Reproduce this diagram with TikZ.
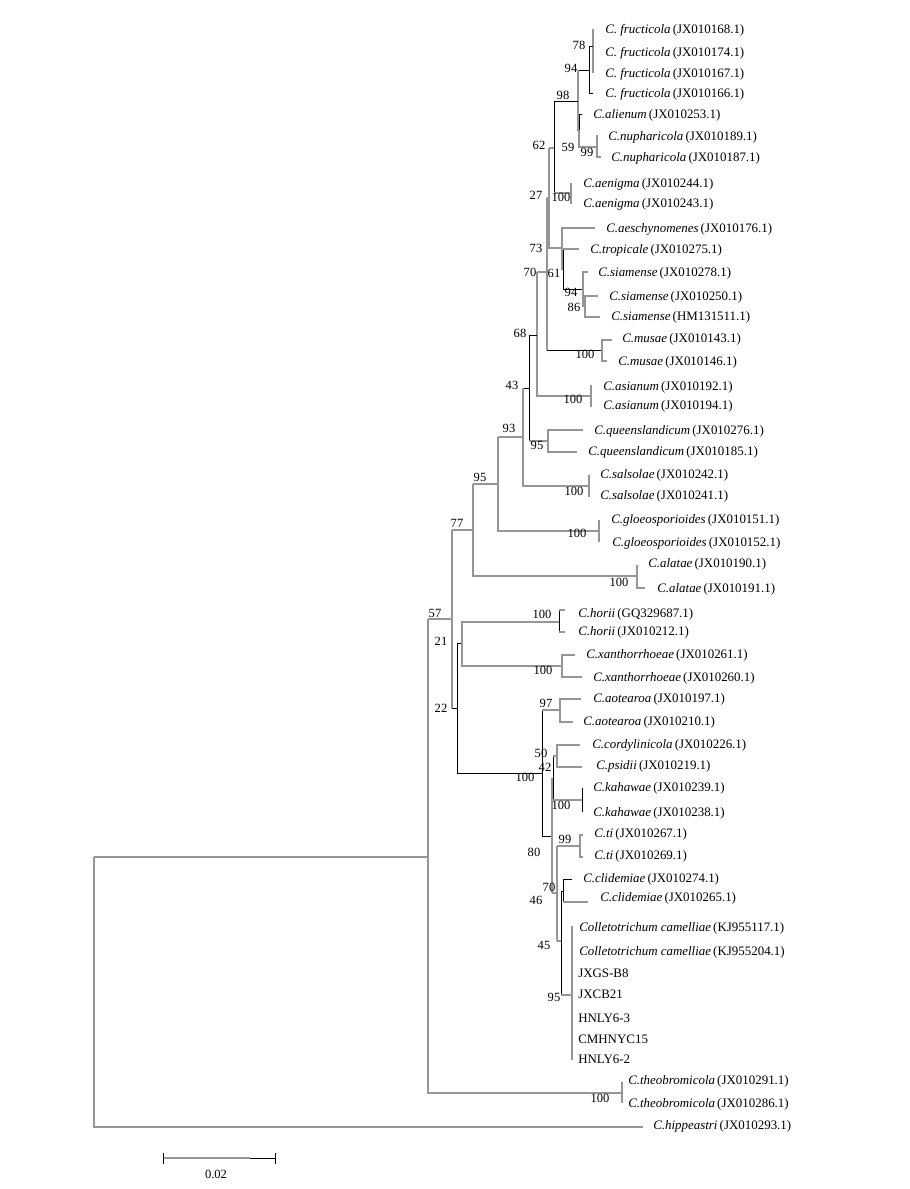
\documentclass[tikz,border=0pt]{standalone}
\usepackage{fontspec}
\setmainfont{Liberation Serif}
\definecolor{brg}{RGB}{150,150,150}
\newcommand\lf[4]{\node[leaf] (#1) at (#2,#3+4.3) {#4};}
\newcommand\bsv[4]{\node[bsl] (#1) at (#2,#3+4) {#4};}
\newcommand\spn[2]{\textit{#1}\,(#2)}
\begin{document}
\begin{tikzpicture}[x=0.75pt,y=-0.75pt,
  g/.style={draw=brg,line width=0.85pt},
  k/.style={draw=black,line width=0.75pt},
  leaf/.style={anchor=base west,inner sep=0pt,font=\fontsize{9.7}{11}\selectfont},
  bsl/.style={anchor=base,inner sep=0pt,font=\fontsize{9.4}{11}\selectfont}]
\useasboundingbox (0,0) rectangle (910,1189);
% ---------- branches ----------
\draw[g] (593,29)--(593,73);
\draw[k] (589,46)--(593,46);
\draw[k] (589,46)--(589,93)--(593,93);
\draw[k] (578,70)--(589,70);
\draw[g] (578,70)--(578,131);
\draw[k] (582,114)--(579,114)--(579,131);
\draw[g] (578,131)--(579,131)--(579,147)--(597,147);
\draw[g] (598,136)--(597,136)--(597,157)--(601,157);
\draw[k] (554,101)--(578,101);
\draw[k] (554,101)--(554,193);
\draw[g] (554,193)--(571,193);
\draw[g] (571,183)--(571,204);
\draw[g] (549,148)--(554,148);
\draw[g] (549,148)--(549,248)--(562,248);
\draw[g] (547,198)--(549,198);
\draw[g] (595,228)--(562,228)--(562,269)--(563,269);
\draw[k] (563,249)--(563,289);
\draw[g] (563,249)--(579,249);
\draw[k] (563,289)--(583,289);
\draw[g] (588,272)--(583,272)--(583,306)--(585,306);
\draw[g] (598,296)--(585,296)--(585,317)--(600,317);
\draw[g] (547,198)--(547,350);
\draw[k] (547,350)--(602,350);
\draw[g] (612,340)--(602,340)--(602,361)--(607,361);
\draw[g] (537,272)--(547,272);
\draw[g] (537,272)--(537,396)--(591,396);
\draw[g] (591,385)--(591,407);
\draw[k] (529,335)--(537,335);
\draw[k] (529,335)--(529,441);
\draw[g] (529,441)--(548,441);
\draw[g] (583,430)--(548,430)--(548,452)--(577,452);
\draw[k] (523,388)--(529,388);
\draw[g] (523,388)--(523,486)--(589,486);
\draw[g] (589,475)--(589,497);
\draw[g] (498,437)--(523,437);
\draw[g] (498,437)--(498,531)--(599,531);
\draw[g] (599,520)--(599,542);
\draw[g] (473,484)--(498,484);
\draw[g] (473,484)--(473,576)--(637,576);
\draw[g] (637,565)--(637,588)--(645,588);
\draw[g] (452,530)--(473,530);
\draw[g] (452,530)--(452,708);
\draw[g] (428,619)--(452,619);
\draw[k] (452,708)--(457,708);
\draw[k] (462,643)--(457,643)--(457,773);
\draw[g] (559,622)--(462,622)--(462,666)--(562,666);
\draw[k] (559,610)--(559,632);
\draw[g] (559,610)--(565,610);
\draw[g] (559,632)--(565,632);
\draw[g] (575,655)--(562,655)--(562,677)--(582,677);
\draw[k] (457,773)--(542,773);
\draw[k] (542,710)--(542,836)--(552,836);
\draw[g] (542,710)--(560,710);
\draw[g] (581,699)--(560,699)--(560,722)--(573,722);
\draw[g] (552,778)--(552,893);
\draw[k] (553,756)--(553,800);
\draw[g] (553,756)--(557,756);
\draw[g] (580,745)--(557,745)--(557,767)--(582,767);
\draw[g] (553,800)--(582,800);
\draw[k] (582,788)--(582,812);
\draw[g] (552,893)--(557,893);
\draw[g] (557,846)--(557,941);
\draw[g] (557,846)--(580,846);
\draw[g] (583,835)--(580,835)--(580,857)--(583,857);
\draw[g] (557,941)--(561,941);
\draw[k] (561,891)--(561,995);
\draw[k] (561,891)--(563,891);
\draw[k] (572,879)--(563,879)--(563,902);
\draw[g] (563,902)--(588,902);
\draw[g] (561,995)--(572,995);
\draw[g] (572,926)--(572,1060);
\draw[g] (428,619)--(428,1093)--(622,1093);
\draw[g] (622,1082)--(622,1103);
\draw[g] (94,857)--(428,857);
\draw[g] (94,857)--(94,1127)--(643,1127);
% ---------- leaves ----------
\lf{l1}{605}{29}{\spn{C. fructicola}{JX010168.1}}
\lf{l2}{605}{52}{\spn{C. fructicola}{JX010174.1}}
\lf{l3}{605}{73}{\spn{C. fructicola}{JX010167.1}}
\lf{l4}{605}{93}{\spn{C. fructicola}{JX010166.1}}
\lf{l5}{593}{114}{\spn{C.alienum}{JX010253.1}}
\lf{l6}{608}{136}{\spn{C.nupharicola}{JX010189.1}}
\lf{l7}{611}{157}{\spn{C.nupharicola}{JX010187.1}}
\lf{l8}{583}{183}{\spn{C.aenigma}{JX010244.1}}
\lf{l9}{583}{203}{\spn{C.aenigma}{JX010243.1}}
\lf{l10}{606}{228}{\spn{C.aeschynomenes}{JX010176.1}}
\lf{l11}{590}{249}{\spn{C.tropicale}{JX010275.1}}
\lf{l12}{598}{272}{\spn{C.siamense}{JX010278.1}}
\lf{l13}{609}{296}{\spn{C.siamense}{JX010250.1}}
\lf{l14}{611}{316}{\spn{C.siamense}{HM131511.1}}
\lf{l15}{622}{338}{\spn{C.musae}{JX010143.1}}
\lf{l16}{618}{361}{\spn{C.musae}{JX010146.1}}
\lf{l17}{603}{386}{\spn{C.asianum}{JX010192.1}}
\lf{l18}{603}{405}{\spn{C.asianum}{JX010194.1}}
\lf{l19}{594}{430}{\spn{C.queenslandicum}{JX010276.1}}
\lf{l20}{588}{451}{\spn{C.queenslandicum}{JX010185.1}}
\lf{l21}{600}{474}{\spn{C.salsolae}{JX010242.1}}
\lf{l22}{600}{495}{\spn{C.salsolae}{JX010241.1}}
\lf{l23}{611}{519}{\spn{C.gloeosporioides}{JX010151.1}}
\lf{l24}{612}{542}{\spn{C.gloeosporioides}{JX010152.1}}
\lf{l25}{648}{563}{\spn{C.alatae}{JX010190.1}}
\lf{l26}{657}{588}{\spn{C.alatae}{JX010191.1}}
\lf{l27}{578}{613}{\spn{C.horii}{GQ329687.1}}
\lf{l28}{578}{631}{\spn{C.horii}{JX010212.1}}
\lf{l29}{586}{654}{\spn{C.xanthorrhoeae}{JX010261.1}}
\lf{l30}{593}{677}{\spn{C.xanthorrhoeae}{JX010260.1}}
\lf{l31}{593}{698}{\spn{C.aotearoa}{JX010197.1}}
\lf{l32}{583}{721}{\spn{C.aotearoa}{JX010210.1}}
\lf{l33}{592}{744}{\spn{C.cordylinicola}{JX010226.1}}
\lf{l34}{596}{765}{\spn{C.psidii}{JX010219.1}}
\lf{l35}{593}{787}{\spn{C.kahawae}{JX010239.1}}
\lf{l36}{593}{812}{\spn{C.kahawae}{JX010238.1}}
\lf{l37}{594}{833}{\spn{C.ti}{JX010267.1}}
\lf{l38}{594}{855}{\spn{C.ti}{JX010269.1}}
\lf{l39}{583}{878}{\spn{C.clidemiae}{JX010274.1}}
\lf{l40}{600}{897}{\spn{C.clidemiae}{JX010265.1}}
\lf{l41}{579}{927}{\spn{Colletotrichum camelliae}{KJ955117.1}}
\lf{l42}{579}{951}{\spn{Colletotrichum camelliae}{KJ955204.1}}
\lf{l43}{578}{973}{JXGS-B8}
\lf{l44}{578}{994}{JXCB21}
\lf{l45}{578}{1018}{HNLY6-3}
\lf{l46}{578}{1039}{CMHNYC15}
\lf{l47}{578}{1059}{HNLY6-2}
\lf{l48}{628}{1080}{\spn{C.theobromicola}{JX010291.1}}
\lf{l49}{628}{1103}{\spn{C.theobromicola}{JX010286.1}}
\lf{l50}{653}{1125}{\spn{C.hippeastri}{JX010293.1}}
% ---------- bootstrap values ----------
\bsv{b1}{579}{45}{78}
\bsv{b2}{571}{68}{94}
\bsv{b3}{563}{95}{98}
\bsv{b4}{539}{145}{62}
\bsv{b5}{568}{147}{59}
\bsv{b6}{587}{152}{99}
\bsv{b7}{536}{195}{27}
\bsv{b8}{561}{197}{100}
\bsv{b9}{536}{248}{73}
\bsv{b10}{530}{272}{70}
\bsv{b11}{554}{273}{61}
\bsv{b12}{571}{292}{94}
\bsv{b13}{574}{307}{86}
\bsv{b14}{520}{333}{68}
\bsv{b15}{585}{354}{100}
\bsv{b16}{512}{385}{43}
\bsv{b17}{573}{399}{100}
\bsv{b18}{509}{428}{93}
\bsv{b19}{537}{445}{95}
\bsv{b20}{480}{477}{95}
\bsv{b21}{574}{491}{100}
\bsv{b22}{457}{523}{77}
\bsv{b23}{577}{533}{100}
\bsv{b24}{619}{582}{100}
\bsv{b25}{435}{613}{57}
\bsv{b26}{542}{614}{100}
\bsv{b27}{441}{641}{21}
\bsv{b28}{543}{670}{100}
\bsv{b29}{546}{703}{97}
\bsv{b30}{441}{708}{22}
\bsv{b31}{541}{753}{50}
\bsv{b32}{545}{767}{42}
\bsv{b33}{525}{777}{100}
\bsv{b34}{561}{805}{100}
\bsv{b35}{565}{839}{99}
\bsv{b36}{534}{852}{80}
\bsv{b37}{549}{887}{70}
\bsv{b38}{536}{900}{46}
\bsv{b39}{544}{945}{45}
\bsv{b40}{554}{997}{95}
\bsv{b41}{600}{1098}{100}
% ---------- scale bar ----------
\coordinate (s1) at (163,1158);
\coordinate (s2) at (275,1158);
\draw[g] (s1)--(250,1158);
\draw[k] (250,1158)--(s2);
\draw[k] (163,1153)--(163,1164);
\draw[k] (275,1153)--(275,1164);
\node[bsl] (sc) at (216,1178) {0.02};
\end{tikzpicture}
\end{document}
